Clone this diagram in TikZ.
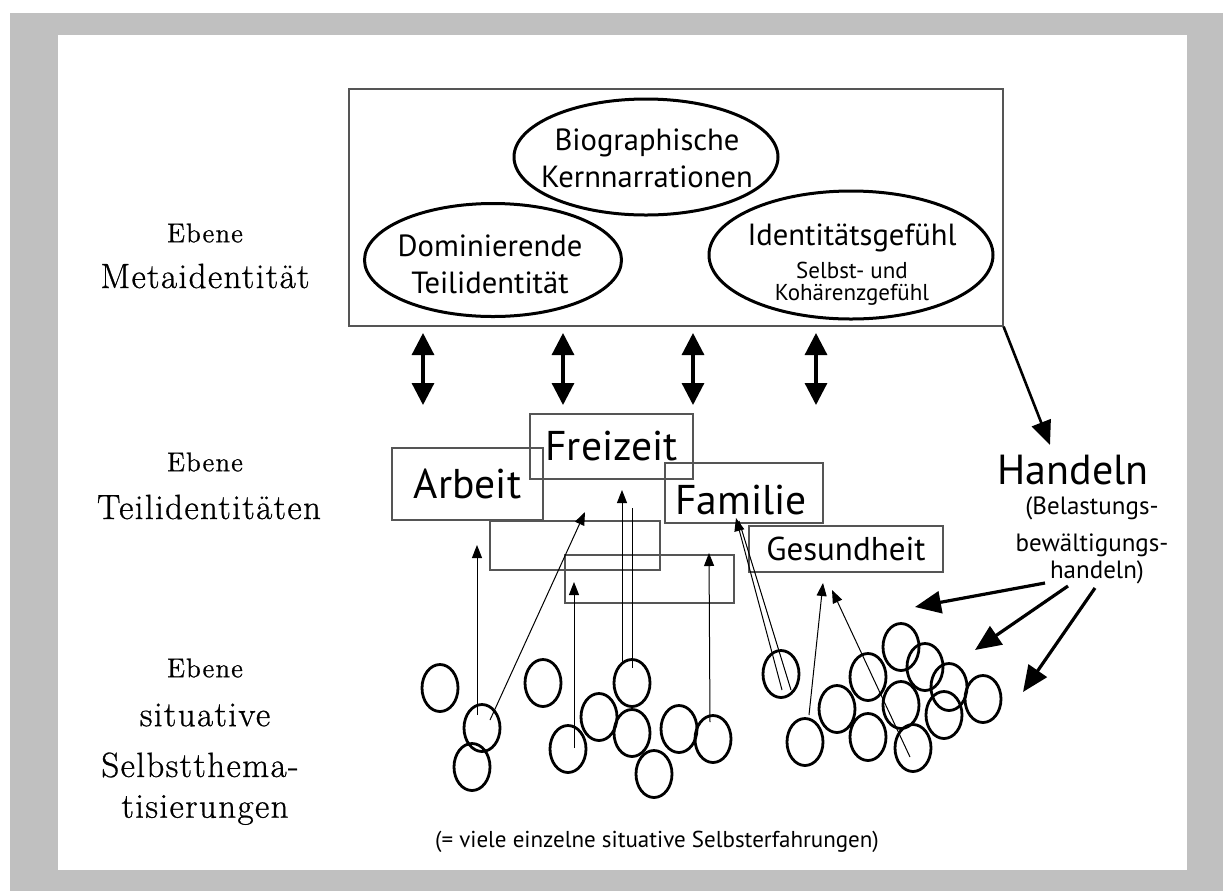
\documentclass[tikz,border=0pt]{standalone}
\usepackage{fontspec}
\newfontfamily\diagsans{PT Sans}
\newfontfamily\lvlserif{Latin Modern Roman}[LetterSpace=4, FakeBold=0.8]
\usetikzlibrary{shapes.geometric,arrows.meta}
\definecolor{framegray}{RGB}{192,192,192}
\definecolor{thinline}{RGB}{85,85,85}

\begin{document}
\begin{tikzpicture}[x=0.5pt,y=-0.5pt,
  lvlsmall/.style={font=\lvlserif\fontsize{13.5}{15}\selectfont, inner sep=0pt},
  lvlbig/.style={font=\lvlserif\fontsize{17.5}{20}\selectfont, inner sep=0pt},
  bubble/.style={ellipse, draw, line width=1.5pt, inner sep=0pt},
  bubtext/.style={font=\diagsans\fontsize{15.3}{18.5}\selectfont, align=center, inner sep=0pt},
  subtext/.style={font=\diagsans\fontsize{11.5}{13}\selectfont, inner sep=0pt},
  metabox/.style={draw=thinline, line width=0.6pt, inner sep=0pt},
  partbox/.style={draw=thinline, line width=0.6pt, inner sep=0pt,
    font=\diagsans\fontsize{20.8}{23}\selectfont},
  dot/.style={ellipse, draw, line width=1.4pt, minimum width=18pt, minimum height=23.5pt, inner sep=0pt},
  dblarrow/.style={line width=1.6pt, {Triangle[width=11pt,length=11pt]}-{Triangle[width=11pt,length=11pt]}},
  bigarrow/.style={line width=1.6pt, -{Triangle[width=11pt,length=13pt]}},
  thinarrow/.style={line width=0.5pt, -{Triangle[width=5pt,length=6.5pt]}},
  thinplain/.style={line width=0.5pt},
  coping/.style={inner sep=0pt, font=\diagsans\fontsize{12.5}{14}\selectfont}
]
\useasboundingbox (0,0) rectangle (1223,891);
\fill[framegray] (10,13) rectangle (1223,891);
\fill[white] (58,35) rectangle (1187,870);

% level labels
\node[lvlsmall] (lmA) at (205,233) {Ebene};
\node[lvlbig]   (lmB) at (205,276) {Metaidentität};
\node[lvlsmall] (ltA) at (205,462) {Ebene};
\node[lvlbig]   (ltB) at (209,507) {Teilidentitäten};
\node[lvlsmall] (lsA) at (205,668) {Ebene};
\node[lvlbig]   (lsB) at (205,715) {situative};
\node[lvlbig]   (lsC) at (200,765) {Selbstthema-};
\node[lvlbig]   (lsD) at (205,810) {tisierungen};

% meta identity box
\node[metabox, minimum width=327pt, minimum height=118.5pt] (meta) at (676,207.5) {};
\node[bubble, minimum width=132pt, minimum height=58pt] (bio) at (646,157) {};
\node[bubtext] (biotext) at (647,158.5) {Biographische\\Kernnarrationen};
\node[bubble, minimum width=128.5pt, minimum height=56.5pt] (dom) at (493,260) {};
\node[bubtext] (domtext) at (490,264) {Dominierende\\Teilidentität};
\node[bubble, minimum width=142pt, minimum height=64pt] (idg) at (851,255) {};
\node[bubtext] (idgA) at (852,238) {Identitätsgefühl};
\node[subtext] (idgB) at (852,270) {Selbst- und};
\node[subtext] (idgC) at (852,295) {Kohärenzgefühl};

% double arrows between the levels
\foreach \i/\x in {1/423,2/563,3/693,4/816}{
  \coordinate (up\i) at (\x,333);
  \coordinate (dn\i) at (\x,405);
  \draw[dblarrow] (up\i) -- (dn\i);
}

% part identity boxes
\node[partbox, minimum width=75.5pt, minimum height=36pt] (arbeit) at (467.5,484) {Arbeit};
\node[partbox, minimum width=81.5pt, minimum height=32.5pt] (freizeit) at (611.5,446.5) {Freizeit};
\node[partbox, minimum width=79pt, minimum height=30pt] (familie) at (744,493) {};
\node[inner sep=0pt, font=\diagsans\fontsize{20.8}{23}\selectfont] (familietext) at (741,500) {Familie};
\node[partbox, minimum width=97pt, minimum height=23pt, font=\diagsans\fontsize{16.5}{18}\selectfont] (gesund) at (846,549) {Gesundheit};
\node[partbox, minimum width=85pt, minimum height=24.5pt] (leerA) at (575,545.5) {};
\node[partbox, minimum width=84.5pt, minimum height=24pt] (leerB) at (649.5,579) {};

% Handeln
\node[inner sep=0pt, font=\diagsans\fontsize{21}{23}\selectfont] (handeln) at (1073,470) {Handeln};
\node[coping] (hdA) at (1092,508) {(Belastungs-};
\node[coping] (hdB) at (1092,545) {bewältigungs-};
\node[coping] (hdC) at (1097,572) {handeln)};
\coordinate (handtip) at (1050,445);
\draw[line width=1.3pt, -{Triangle[width=10pt,length=12pt]}] (meta.south east) -- (handtip);

% situative self-thematisations
\foreach \n/\x/\y in {c1/440/688, c2/482/728, c3/472/767, c4/543/683, c5/568/749,
  c6/599/717, c7/632/683, c8/632/733, c9/654/774, c10/679/729, c11/713/739,
  d1/781/674, d2/805/742, d3/837/709, d4/868/677, d5/868/737, d6/901/647,
  d7/901/705, d8/913/748, d9/925/667, d10/949/687, d11/944/715, d12/983/699}{
  \node[dot] (\n) at (\x,\y) {};
}

% thin connectors from single situations up to part identities
\coordinate (t1) at (477,715);  \coordinate (h1) at (477,545);
\coordinate (t2) at (490,720);  \coordinate (h2) at (585,512);
\coordinate (t3) at (574,748);  \coordinate (h3) at (574,582);
\coordinate (t4) at (622,662);  \coordinate (h4) at (622,490);
\coordinate (t5) at (632,668);  \coordinate (h5) at (632,508);
\coordinate (t6) at (710,722);  \coordinate (h6) at (709,553);
\coordinate (t7) at (782,690);  \coordinate (h7) at (736,518);
\coordinate (t8) at (791,690);  \coordinate (h8) at (739,521);
\coordinate (t9) at (809,715);  \coordinate (h9) at (823,583);
\coordinate (t10) at (910,757); \coordinate (h10) at (832,590);
\draw[thinarrow] (t1) -- (h1);
\draw[thinarrow] (t2) -- (h2);
\draw[thinarrow] (t3) -- (h3);
\draw[thinarrow] (t4) -- (h4);
\draw[thinplain] (t5) -- (h5);
\draw[thinarrow] (t6) -- (h6);
\draw[thinarrow] (t7) -- (h7);
\draw[thinplain] (t8) -- (h8);
\draw[thinarrow] (t9) -- (h9);
\draw[thinarrow] (t10) -- (h10);

% coping actions feeding back into the situations
\coordinate (s1) at (1045,583); \coordinate (e1) at (915,607);
\coordinate (s2) at (1068,586); \coordinate (e2) at (975,650);
\coordinate (s3) at (1095,588); \coordinate (e3) at (1023,692);
\draw[bigarrow] (s1) -- (e1);
\draw[bigarrow] (s2) -- (e2);
\draw[bigarrow] (s3) -- (e3);

\node[inner sep=0pt, font=\diagsans\fontsize{11.5}{13}\selectfont] (note) at (657,842) {(= viele einzelne situative Selbsterfahrungen)};
\end{tikzpicture}
\end{document}
